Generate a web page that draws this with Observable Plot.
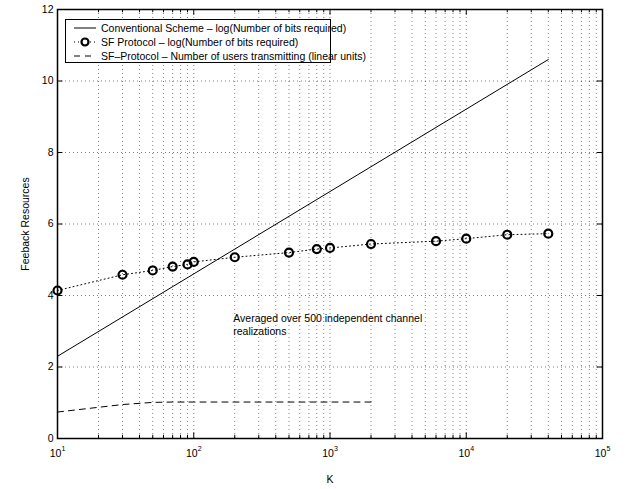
<!DOCTYPE html>
<html><head><meta charset="utf-8">
<script src="https://cdn.jsdelivr.net/npm/d3@7"></script>
<script src="https://cdn.jsdelivr.net/npm/@observablehq/plot@0.6"></script>
<style>
body{margin:0;background:#fff;}
#wrap{position:relative;width:633px;height:489px;font-family:"Liberation Sans",Arial,sans-serif;}
#legend{position:absolute;left:65px;top:19px;width:264px;height:42px;border:1px solid #000;background:#fff;font-size:10.5px;}
#legend .row{position:absolute;left:0;height:14px;width:100%;}
#legend svg{position:absolute;left:0;top:0;}
#legend span{position:absolute;left:35px;top:0;line-height:14px;white-space:nowrap;}
</style></head><body><div id="wrap"></div>
<script>
// ---- data ----
const kConv = [10, 40000];
const convBits = [2.30, 10.60];

const kSF = [10, 30, 50, 70, 90, 100, 200, 500, 800, 1000, 2000, 6000, 10000, 20000, 40000];
const sfBits = [4.14, 4.58, 4.70, 4.81, 4.87, 4.94, 5.07, 5.20, 5.30, 5.33, 5.44, 5.52, 5.59, 5.70, 5.73];

const kUsers = [10, 30, 50, 70, 90, 100, 200, 500, 800, 1000, 2000];
const usersTx = [0.74, 0.95, 1.01, 1.02, 1.02, 1.02, 1.02, 1.02, 1.02, 1.02, 1.02];

const decades = [10, 100, 1000, 10000, 100000];
const exponents = ["1", "2", "3", "4", "5"];
const minorMult = [2, 3, 4, 5, 6, 7, 8, 9];
const yTicks = [0, 2, 4, 6, 8, 10, 12];

const legendLabels = [
  "Conventional Scheme \u2013 log(Number of bits required)",
  "SF Protocol \u2013 log(Number of bits required)",
  "SF\u2013Protocol \u2013 Number of users transmitting (linear units)"
];
const noteLines = ["Averaged over 500 independent channel", "realizations"];
const noteAt = {k: 195, y: 3.52};

// ---- tables ----
const conv = kConv.map((k, i) => ({k, v: convBits[i]}));
const sf = kSF.map((k, i) => ({k, v: sfBits[i]}));
const users = kUsers.map((k, i) => ({k, v: usersTx[i]}));
const decadeRows = decades.map((d, i) => ({d, e: exponents[i]}));
const minors = decades.slice(0, -1).flatMap(d => minorMult.map(m => d * m));
const allX = decades.concat(minors);

const font = "Liberation Sans, Arial, sans-serif";
const grid = {stroke: "#000", strokeOpacity: 0.5, strokeDasharray: "1,3", strokeWidth: 1};

const chart = Plot.plot({
  width: 633, height: 489,
  marginLeft: 57, marginRight: 31, marginTop: 9, marginBottom: 51,
  style: {fontFamily: font, fontSize: "10.5px", color: "#000", background: "#fff"},
  x: {type: "log", domain: [10, 100000]},
  y: {domain: [0, 12]},
  marks: [
    // grid
    Plot.ruleX(allX, {...grid}),
    Plot.ruleY(yTicks.slice(1, -1), {...grid}),
    // inward ticks
    Plot.ruleX(decades, {y1: 0, y2: 0.16, stroke: "#000"}),
    Plot.ruleX(decades, {y1: 12, y2: 11.84, stroke: "#000"}),
    Plot.ruleX(minors, {y1: 0, y2: 0.09, stroke: "#000"}),
    Plot.ruleX(minors, {y1: 12, y2: 11.91, stroke: "#000"}),
    Plot.ruleY(yTicks, {x1: 10, x2: 10 * Math.pow(10, 0.04), stroke: "#000"}),
    Plot.ruleY(yTicks, {x1: 100000, x2: 100000 / Math.pow(10, 0.04), stroke: "#000"}),
    // axes
    Plot.axisY(yTicks, {tickSize: 0, tickPadding: 4, label: "Feeback Resources", labelAnchor: "center", labelArrow: "none", labelOffset: 36, fontSize: 10.5}),
    Plot.axisX(decades, {tickSize: 0, tickFormat: () => "", label: "K", labelAnchor: "center", labelArrow: "none", labelOffset: 44, fontSize: 10.5}),
    Plot.text(decadeRows, {x: "d", y: 0, text: () => "10", dy: 15, dx: -2, fontSize: 10.5}),
    Plot.text(decadeRows, {x: "d", y: 0, text: "e", dy: 10, dx: 6, fontSize: 7}),
    // data
    Plot.line(conv, {x: "k", y: "v", stroke: "#000", strokeWidth: 1}),
    Plot.line(sf, {x: "k", y: "v", stroke: "#000", strokeWidth: 1, strokeDasharray: "1,3"}),
    Plot.dot(sf, {x: "k", y: "v", r: 4, stroke: "#000", strokeWidth: 2.2, fill: "none"}),
    Plot.line(users, {x: "k", y: "v", stroke: "#000", strokeWidth: 1, strokeDasharray: "6,5"}),
    Plot.text([noteLines.join("\n")], {x: () => noteAt.k, y: () => noteAt.y, textAnchor: "start", lineAnchor: "top", fontSize: 10.5, lineHeight: 1.25}),
    Plot.frame({stroke: "#000", strokeWidth: 1.5})
  ]
});
const wrap = document.getElementById("wrap");
wrap.appendChild(chart);

// legend overlay
const lg = document.createElement("div");
lg.id = "legend";
const rowsTop = [1, 15, 29];
legendLabels.forEach((lab, i) => {
  const row = document.createElement("div");
  row.className = "row";
  row.style.top = rowsTop[i] + "px";
  let sw = "";
  if (i === 0) sw = `<line x1="8" x2="30" y1="7" y2="7" stroke="#000" stroke-width="1"/>`;
  if (i === 1) sw = `<line x1="8" x2="30" y1="7" y2="7" stroke="#000" stroke-width="1" stroke-dasharray="1,3"/><circle cx="19" cy="7" r="3.5" fill="#fff" stroke="#000" stroke-width="2.2"/>`;
  if (i === 2) sw = `<line x1="8" x2="30" y1="7" y2="7" stroke="#000" stroke-width="1" stroke-dasharray="6,5"/>`;
  row.innerHTML = `<svg width="34" height="14">${sw}</svg><span>${lab}</span>`;
  lg.appendChild(row);
});
wrap.appendChild(lg);
</script></body></html>
